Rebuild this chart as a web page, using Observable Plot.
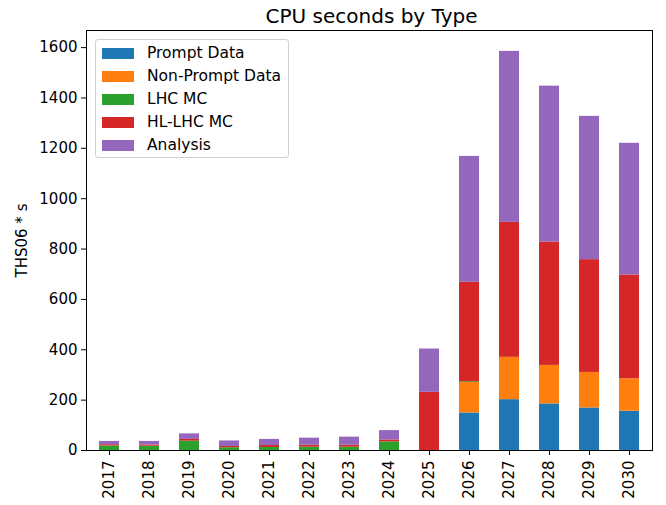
<!DOCTYPE html>
<html>
<head>
<meta charset="utf-8">
<script src="https://cdn.jsdelivr.net/npm/d3@7"></script>
<script src="https://cdn.jsdelivr.net/npm/@observablehq/plot@0.6"></script>
<style>
  html, body { margin: 0; padding: 0; background: #fff; }
  #wrap { position: relative; width: 666px; height: 505px; font-family: "DejaVu Sans", sans-serif; }
  #legend { position: absolute; left: 95px; top: 39px; width: 194px; height: 119px;
    border: 1px solid #d0d0d0; border-radius: 3px; background: rgba(255,255,255,0.8);
    font-size: 15.5px; color: #000; box-sizing: border-box; }
  .row { position: absolute; left: 6px; height: 23px; display: flex; align-items: center; white-space: nowrap; }
  .sw { width: 32px; height: 11px; margin-right: 13px; }
</style>
</head>
<body>
<div id="wrap"></div>
<script>
const years = ["2017","2018","2019","2020","2021","2022","2023","2024","2025","2026","2027","2028","2029","2030"];
const seriesNames = ["Prompt Data", "Non-Prompt Data", "LHC MC", "HL-LHC MC", "Analysis"];
const colors = ["#1f77b4", "#ff7f0e", "#2ca02c", "#d62728", "#9467bd"];
const promptData    = [0, 0, 0, 0, 0, 0, 0, 0, 0, 149, 202, 185, 169, 156];
const nonPromptData = [0, 0, 0, 0, 0, 0, 0, 0, 0, 121, 168, 153, 141, 129];
const lhcMC         = [18, 17, 37, 11, 12, 13, 13, 34, 0, 3, 0, 0, 0, 0];
const hlLhcMC       = [5, 5, 7, 5, 8, 8, 8, 8, 231, 395, 536, 490, 448, 412];
const analysis      = [13, 14, 22, 22, 24, 28, 32, 37, 172, 500, 679, 619, 569, 523];
const yTicks = [0, 200, 400, 600, 800, 1000, 1200, 1400, 1600];

const seriesValues = [promptData, nonPromptData, lhcMC, hlLhcMC, analysis];
const rows = [];
seriesNames.forEach((s, i) => years.forEach((y, j) => rows.push({year: y, series: s, value: seriesValues[i][j]})));

const chart = Plot.plot({
  width: 666,
  height: 505,
  marginLeft: 86,
  marginRight: 14,
  marginTop: 30,
  marginBottom: 55,
  style: {fontFamily: "DejaVu Sans, sans-serif", fontSize: "15px", color: "#000", background: "#fff"},
  x: {domain: years, paddingInner: 0.5, paddingOuter: 0.25, label: null},
  y: {domain: [0, 1668], label: null},
  color: {domain: seriesNames, range: colors},
  marks: [
    Plot.barY(rows, {x: "year", y: "value", fill: "series", order: seriesNames}),
    Plot.frame({stroke: "#000", strokeWidth: 1}),
    Plot.axisY({ticks: yTicks, tickFormat: d3.format("d"), tickSize: 5, tickPadding: 4, fontSize: 15,
      label: "THS06 * s", labelAnchor: "center", labelArrow: "none", labelOffset: 70}),
    Plot.axisX({tickSize: 5, tickPadding: 5, tickRotate: -90, fontSize: 15, label: null}),
    Plot.text(["CPU seconds by Type"], {frameAnchor: "top", dy: -22, dx: 2, fontSize: 20, fill: "#000"})
  ]
});
const wrap = document.getElementById("wrap");
wrap.appendChild(chart);

const legend = document.createElement("div");
legend.id = "legend";
seriesNames.forEach((s, i) => {
  const r = document.createElement("div");
  r.className = "row";
  r.style.top = (1.5 + i * 23) + "px";
  const sw = document.createElement("div");
  sw.className = "sw";
  sw.style.background = colors[i];
  const t = document.createElement("span");
  t.textContent = s;
  r.appendChild(sw); r.appendChild(t);
  legend.appendChild(r);
});
wrap.appendChild(legend);
</script>
</body>
</html>
